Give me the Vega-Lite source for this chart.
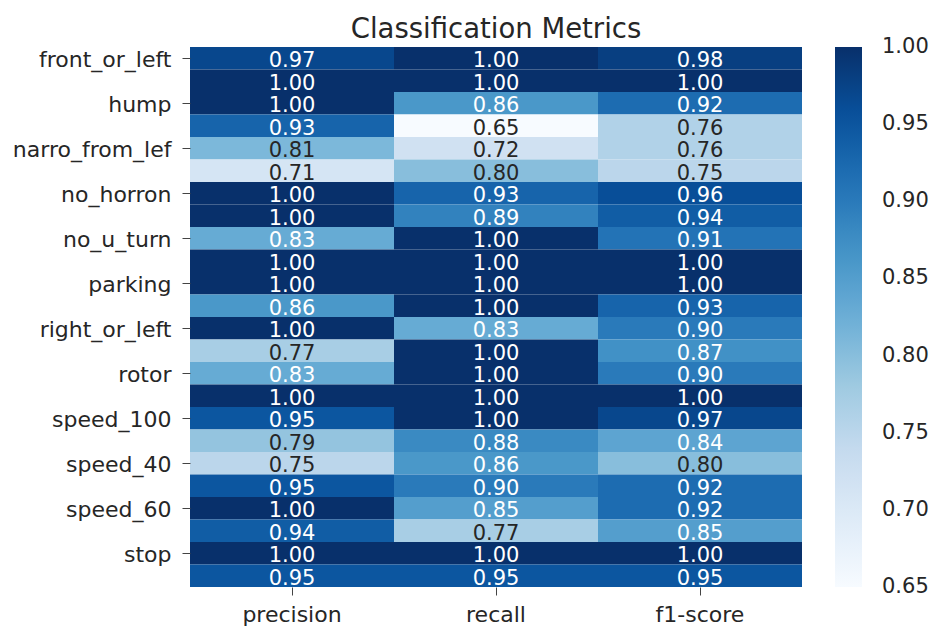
{
  "$schema": "https://vega.github.io/schema/vega-lite/v6.json",
  "autosize": {"type": "none"},
  "padding": {"left": 190, "top": 47, "right": 134, "bottom": 47},
  "width": 612,
  "height": 540,
  "background": "#ffffff",
  "title": {"text": "Classification Metrics", "fontSize": 27.5, "fontWeight": "normal", "color": "#262626", "offset": 4},
  "config": {"view": {"stroke": null}, "font": "DejaVu Sans"},
  "data": {"values": [
    {"cls": "front_or_left", "metric": "precision", "value": 0.97},
    {"cls": "front_or_left", "metric": "recall", "value": 1.0},
    {"cls": "front_or_left", "metric": "f1-score", "value": 0.98},
    {"cls": "front_or_right", "metric": "precision", "value": 1.0},
    {"cls": "front_or_right", "metric": "recall", "value": 1.0},
    {"cls": "front_or_right", "metric": "f1-score", "value": 1.0},
    {"cls": "hump", "metric": "precision", "value": 1.0},
    {"cls": "hump", "metric": "recall", "value": 0.86},
    {"cls": "hump", "metric": "f1-score", "value": 0.92},
    {"cls": "left_turn", "metric": "precision", "value": 0.93},
    {"cls": "left_turn", "metric": "recall", "value": 0.65},
    {"cls": "left_turn", "metric": "f1-score", "value": 0.76},
    {"cls": "narro_from_lef", "metric": "precision", "value": 0.81},
    {"cls": "narro_from_lef", "metric": "recall", "value": 0.72},
    {"cls": "narro_from_lef", "metric": "f1-score", "value": 0.76},
    {"cls": "narro_from_rig", "metric": "precision", "value": 0.71},
    {"cls": "narro_from_rig", "metric": "recall", "value": 0.8},
    {"cls": "narro_from_rig", "metric": "f1-score", "value": 0.75},
    {"cls": "no_horron", "metric": "precision", "value": 1.0},
    {"cls": "no_horron", "metric": "recall", "value": 0.93},
    {"cls": "no_horron", "metric": "f1-score", "value": 0.96},
    {"cls": "no_parking", "metric": "precision", "value": 1.0},
    {"cls": "no_parking", "metric": "recall", "value": 0.89},
    {"cls": "no_parking", "metric": "f1-score", "value": 0.94},
    {"cls": "no_u_turn", "metric": "precision", "value": 0.83},
    {"cls": "no_u_turn", "metric": "recall", "value": 1.0},
    {"cls": "no_u_turn", "metric": "f1-score", "value": 0.91},
    {"cls": "overtaking", "metric": "precision", "value": 1.0},
    {"cls": "overtaking", "metric": "recall", "value": 1.0},
    {"cls": "overtaking", "metric": "f1-score", "value": 1.0},
    {"cls": "parking", "metric": "precision", "value": 1.0},
    {"cls": "parking", "metric": "recall", "value": 1.0},
    {"cls": "parking", "metric": "f1-score", "value": 1.0},
    {"cls": "pedestrian", "metric": "precision", "value": 0.86},
    {"cls": "pedestrian", "metric": "recall", "value": 1.0},
    {"cls": "pedestrian", "metric": "f1-score", "value": 0.93},
    {"cls": "right_or_left", "metric": "precision", "value": 1.0},
    {"cls": "right_or_left", "metric": "recall", "value": 0.83},
    {"cls": "right_or_left", "metric": "f1-score", "value": 0.9},
    {"cls": "right_turn", "metric": "precision", "value": 0.77},
    {"cls": "right_turn", "metric": "recall", "value": 1.0},
    {"cls": "right_turn", "metric": "f1-score", "value": 0.87},
    {"cls": "rotor", "metric": "precision", "value": 0.83},
    {"cls": "rotor", "metric": "recall", "value": 1.0},
    {"cls": "rotor", "metric": "f1-score", "value": 0.9},
    {"cls": "slow", "metric": "precision", "value": 1.0},
    {"cls": "slow", "metric": "recall", "value": 1.0},
    {"cls": "slow", "metric": "f1-score", "value": 1.0},
    {"cls": "speed_100", "metric": "precision", "value": 0.95},
    {"cls": "speed_100", "metric": "recall", "value": 1.0},
    {"cls": "speed_100", "metric": "f1-score", "value": 0.97},
    {"cls": "speed_30", "metric": "precision", "value": 0.79},
    {"cls": "speed_30", "metric": "recall", "value": 0.88},
    {"cls": "speed_30", "metric": "f1-score", "value": 0.84},
    {"cls": "speed_40", "metric": "precision", "value": 0.75},
    {"cls": "speed_40", "metric": "recall", "value": 0.86},
    {"cls": "speed_40", "metric": "f1-score", "value": 0.8},
    {"cls": "speed_50", "metric": "precision", "value": 0.95},
    {"cls": "speed_50", "metric": "recall", "value": 0.9},
    {"cls": "speed_50", "metric": "f1-score", "value": 0.92},
    {"cls": "speed_60", "metric": "precision", "value": 1.0},
    {"cls": "speed_60", "metric": "recall", "value": 0.85},
    {"cls": "speed_60", "metric": "f1-score", "value": 0.92},
    {"cls": "speed_80", "metric": "precision", "value": 0.94},
    {"cls": "speed_80", "metric": "recall", "value": 0.77},
    {"cls": "speed_80", "metric": "f1-score", "value": 0.85},
    {"cls": "stop", "metric": "precision", "value": 1.0},
    {"cls": "stop", "metric": "recall", "value": 1.0},
    {"cls": "stop", "metric": "f1-score", "value": 1.0},
    {"cls": "uphill", "metric": "precision", "value": 0.95},
    {"cls": "uphill", "metric": "recall", "value": 0.95},
    {"cls": "uphill", "metric": "f1-score", "value": 0.95}
  ]},
  "encoding": {
    "y": {
      "field": "cls", "type": "nominal", "sort": null, "title": null,
      "axis": {
        "values": ["front_or_left", "hump", "narro_from_lef", "no_horron", "no_u_turn", "parking", "right_or_left", "rotor", "speed_100", "speed_40", "speed_60", "stop"],
        "labelFontSize": 22, "labelColor": "#262626", "tickColor": "#444444", "tickSize": 8,
        "labelPadding": 11, "labelOffset": 2, "domain": false, "labelLimit": 300
      }
    },
    "x": {
      "field": "metric", "type": "nominal", "sort": ["precision", "recall", "f1-score"], "title": null,
      "axis": {"labelAngle": 0, "labelFontSize": 22, "labelColor": "#262626", "tickColor": "#444444", "tickSize": 8, "labelPadding": 9, "domain": false}
    }
  },
  "layer": [
    {
      "mark": {"type": "rect"},
      "encoding": {
        "color": {
          "field": "value", "type": "quantitative",
          "scale": {
            "domain": [0.65, 0.69375, 0.7375, 0.78125, 0.825, 0.86875, 0.9125, 0.95625, 1.0],
            "range": ["#f7fbff", "#deebf7", "#c6dbef", "#9ecae1", "#6baed6", "#4292c6", "#2171b5", "#08519c", "#08306b"],
            "interpolate": "rgb"
          },
          "legend": {
            "title": null,
            "values": [0.65, 0.7, 0.75, 0.8, 0.85, 0.9, 0.95, 1.0],
            "format": ".2f",
            "gradientLength": 540,
            "gradientThickness": 27,
            "gradientStrokeWidth": 0,
            "labelFontSize": 21,
            "labelColor": "#262626",
            "labelOffset": 20,
            "offset": 33,
            "encode": {"labels": {"update": {"baseline": {"value": "middle"}}}}
          }
        }
      }
    },
    {
      "mark": {"type": "text", "fontSize": 21, "dy": 3},
      "encoding": {
        "text": {"field": "value", "type": "quantitative", "format": ".2f"},
        "color": {"condition": {"test": "datum.value < 0.82", "value": "#262626"}, "value": "#ffffff"}
      }
    }
  ]
}
